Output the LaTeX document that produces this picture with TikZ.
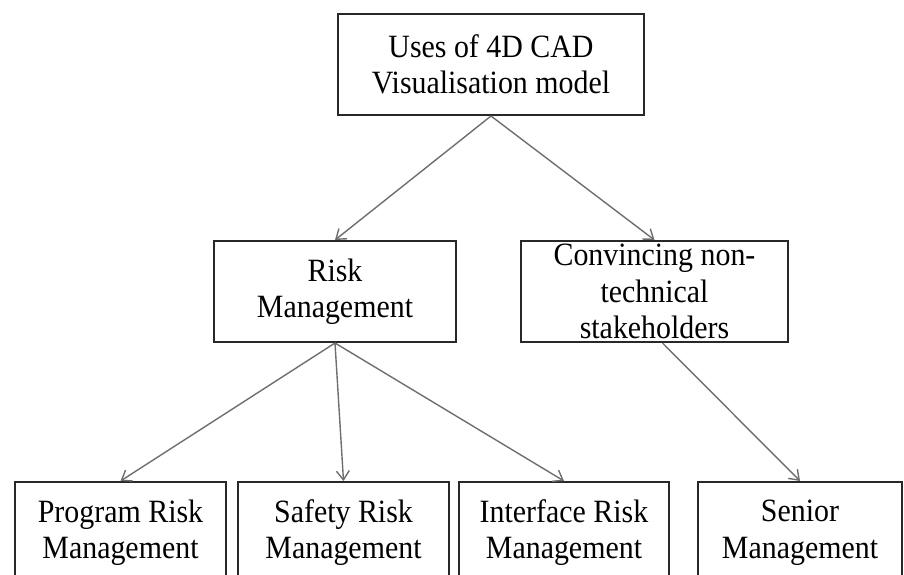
\documentclass[tikz,border=0pt]{standalone}
\usepackage{fontspec}
\setmainfont[FakeStretch=0.92]{Liberation Serif}
\usepackage{tikz}
\usepackage{xcolor}
\usetikzlibrary{arrows.meta}

\definecolor{edgegray}{RGB}{110,110,110}
\definecolor{boxline}{RGB}{40,40,40}

\begin{document}
\begin{tikzpicture}[x=1pt,y=-1pt,>={Straight Barb[length=9pt,width=13pt]},
                    use node/.style={rectangle,draw=boxline,line width=2pt,align=center,
                      inner sep=0pt,minimum height=101pt,font=\fontsize{32.5}{36.5}\selectfont}]

  \useasboundingbox (0,0) rectangle (904,574);
  \clip (0,0) rectangle (904,574);

  \node[use node,minimum width=306pt] (top) at (491,64.5) {Uses of 4D CAD\\Visualisation model};
  \node[use node,minimum width=242pt] (risk) at (335,291.5) {Risk\\Management};
  \node[use node,minimum width=267pt] (conv) at (654.5,291.5) {Convincing non-\\technical\\stakeholders};

  \node[use node,minimum width=211pt] (prog) at (120.5,532.5) {Program Risk\\Management};
  \node[use node,minimum width=211pt] (safe) at (343.5,532.5) {Safety Risk\\Management};
  \node[use node,minimum width=210pt] (intf) at (564,532.5) {Interface Risk\\Management};
  \node[use node,minimum width=204pt] (sen) at (800,532.5) {Senior\\Management};

  \path[every edge/.style={draw=edgegray,line width=1.4pt,->}]
    (top.south) edge (risk.north)
                edge (conv.north)
    (risk.south) edge (prog.north)
                 edge (safe.north)
                 edge (intf.north)
    ([xshift=8pt]conv.south) edge (sen.north)
    ;
\end{tikzpicture}
\end{document}
